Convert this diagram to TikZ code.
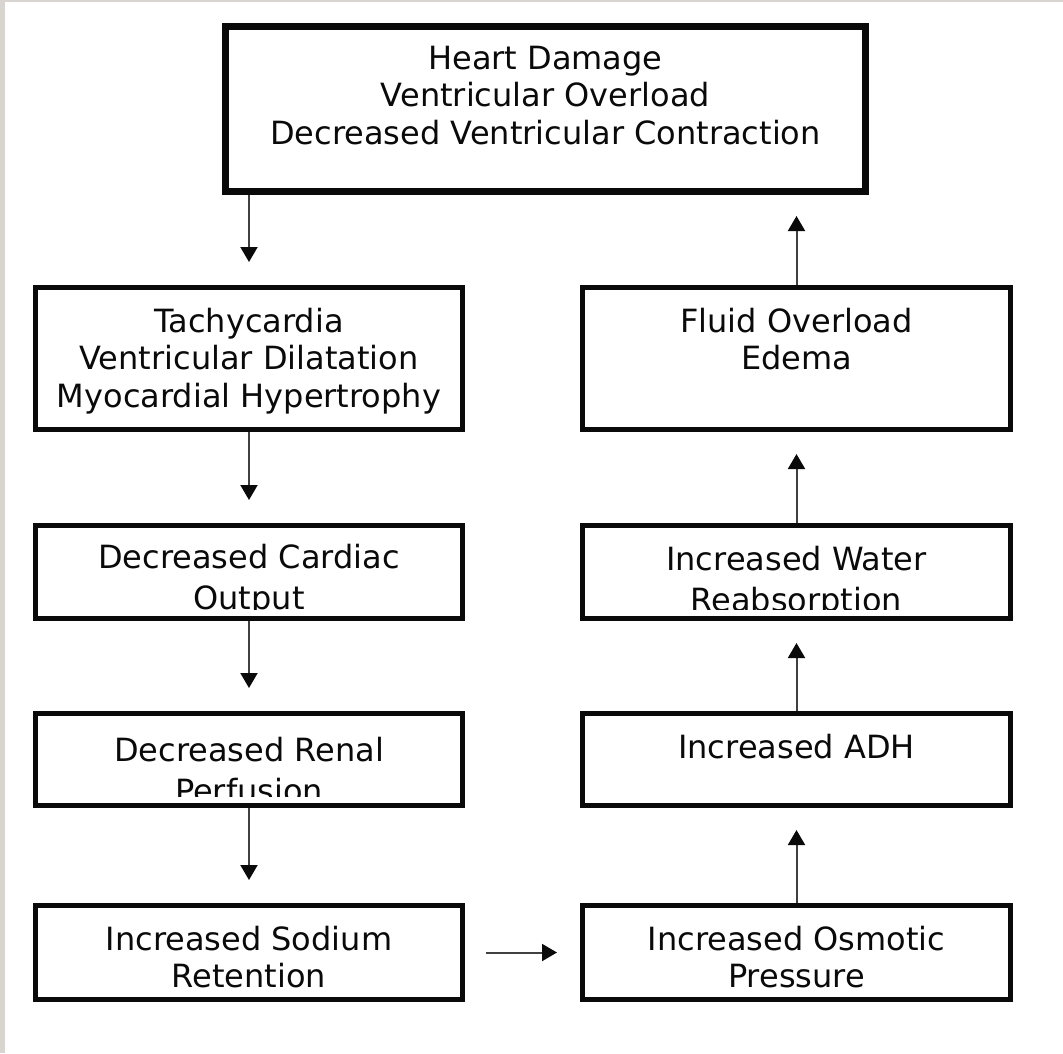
\documentclass[tikz,border=0pt]{standalone}
\usepackage{fontspec}
\setmainfont{DejaVu Sans}
\usetikzlibrary{arrows.meta,calc}

\definecolor{framegray}{HTML}{D8D5D0}
\definecolor{ink}{HTML}{0A0A0A}
\definecolor{arrowink}{HTML}{404040}

\begin{document}
\begin{tikzpicture}[x=1pt,y=-1pt,
  headbox/.style={draw=ink, line width=7pt, minimum width=640pt,
    minimum height=165pt, inner sep=0pt},
  stepbox/.style={draw=ink, line width=5pt, minimum width=427pt, inner sep=0pt},
  rightbox/.style={stepbox, minimum width=428pt},
  boxtext/.style={anchor=north, inner sep=0pt, align=center, text=ink,
    font=\fontsize{32}{37.5}\selectfont},
  loosetext/.style={boxtext, font=\fontsize{32}{41}\selectfont},
  flow/.style={draw=arrowink, line width=2pt,
    -{Triangle[length=15pt,width=17pt,color=ink]}}]

  % page: grey strip along the left and top edges
  \fill[framegray] (0,0) rectangle (1063,1053);
  \fill[white] (5,2) rectangle (1063,1053);
  \useasboundingbox (0,0) rectangle (1063,1053);

  % boxes
  \node[headbox] (hd) at (545.5,109) {};
  \node[stepbox, minimum height=142pt] (tach) at (249,358.5) {};
  \node[stepbox, minimum height=93pt] (co) at (249,572) {};
  \node[stepbox, minimum height=92pt] (rp) at (249,759.5) {};
  \node[stepbox, minimum height=94pt] (na) at (249,952.5) {};
  \node[rightbox, minimum height=142pt] (fo) at (796.5,358.5) {};
  \node[rightbox, minimum height=93pt] (wr) at (796.5,572) {};
  \node[rightbox, minimum height=92pt] (adh) at (796.5,759.5) {};
  \node[rightbox, minimum height=94pt] (osm) at (796.5,952.5) {};

  % box texts, set from the top of each box
  \node[boxtext] (hd-t) at ($(hd.north)+(0,22.5)$)
    {Heart Damage\\Ventricular Overload\\Decreased Ventricular Contraction};
  \node[boxtext] (tach-t) at ($(tach.north)+(0,22.5)$)
    {Tachycardia\\Ventricular Dilatation\\Myocardial Hypertrophy};
  % the lower lines of these three run past the text area and are cut off
  \begin{scope}
    \clip (co.north west) rectangle ($(co.south east)+(0,-12)$);
    \node[loosetext] (co-t) at ($(co.north)+(0,21)$) {Decreased Cardiac\\Output};
  \end{scope}
  \begin{scope}
    \clip (rp.north west) rectangle ($(rp.south east)+(0,-12)$);
    \node[loosetext] (rp-t) at ($(rp.north)+(0,25.5)$) {Decreased Renal\\Perfusion};
  \end{scope}
  \begin{scope}
    \clip (wr.north west) rectangle ($(wr.south east)+(0,-12)$);
    \node[loosetext] (wr-t) at ($(wr.north)+(0,22.5)$) {Increased Water\\Reabsorption};
  \end{scope}
  \node[boxtext] (na-t) at ($(na.north)+(0,22.5)$) {Increased Sodium\\Retention};
  \node[boxtext] (fo-t) at ($(fo.north)+(0,22.5)$) {Fluid Overload\\Edema};
  \node[boxtext] (adh-t) at ($(adh.north)+(0,22.5)$) {Increased ADH};
  \node[boxtext] (osm-t) at ($(osm.north)+(0,22.5)$) {Increased Osmotic\\Pressure};

  % left column, downwards
  \draw[flow, shorten >=23pt] (hd.south -| tach.north) -- (tach.north);
  \draw[flow, shorten >=23pt] (tach.south) -- (co.north);
  \draw[flow, shorten >=23pt] (co.south) -- (rp.north);
  \draw[flow, shorten >=23pt] (rp.south) -- (na.north);
  % across
  \draw[flow, shorten <=21pt, shorten >=23pt] (na.east) -- (osm.west);
  % right column, upwards
  \draw[flow, shorten >=22pt] (osm.north) -- (adh.south);
  \draw[flow, shorten >=22pt] (adh.north) -- (wr.south);
  \draw[flow, shorten >=22pt] (wr.north) -- (fo.south);
  \draw[flow, shorten >=21pt] (fo.north) -- (fo.north |- hd.south);
\end{tikzpicture}
\end{document}
